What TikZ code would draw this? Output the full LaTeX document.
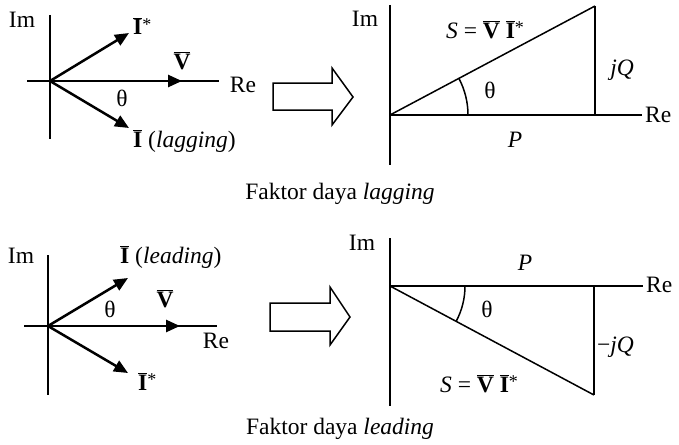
\documentclass[tikz,border=0pt]{standalone}
\usepackage{fontspec}
\setmainfont{Liberation Serif}
\usetikzlibrary{arrows.meta}

\newcommand{\phV}{$\overline{\mbox{\textbf{V}}}$}
\newcommand{\phI}{$\overline{\mbox{\textbf{I}}}$}
\newcommand{\cstar}{\raisebox{5pt}{\fontsize{18}{18}\selectfont *}}

\begin{document}
\begin{tikzpicture}[
    x=1pt, y=-1pt,
    font=\fontsize{23.5}{27}\selectfont,
    axis/.style={line width=2pt},
    phasor/.style={
        line width=2.5pt,
        -{Triangle[length=14pt,width=12pt]}
    },
    side/.style={line width=2pt},
    hyp/.style={line width=1.5pt},
    lbl/.style={inner sep=0pt, anchor=base},
    lblw/.style={inner sep=0pt, anchor=base west},
    bigarrow/.style={draw, line width=1.5pt, line join=miter}
]

\useasboundingbox (0,0) rectangle (679,444);

% --------------------------------------------------
% Lagging: phasors
% --------------------------------------------------

\coordinate (oA) at (50,81);
\coordinate (imAt) at (50,15);
\coordinate (imAb) at (50,139);
\coordinate (reAl) at (27,81);
\coordinate (reAr) at (219,81);
\coordinate (vA) at (182,81);
\coordinate (icA) at (129,33);
\coordinate (iA) at (129,128);

\draw[axis] (imAt) -- (imAb);
\draw[axis] (reAl) -- (reAr);
\draw[phasor] (oA) -- (vA);
\draw[phasor] (oA) -- (icA);
\draw[phasor] (oA) -- (iA);

\node[lbl] (imA) at (22,28) {Im};
\node[lbl] (reA) at (243,92) {Re};
\node[lbl] (vlA) at (182,69) {\phV};
\node[lbl] (thA) at (122,106) {θ};
\node[lblw] (iclA) at (133,35) {\phI\cstar};
\node[lblw] (ilA) at (133,147) {\phI\ (\textit{lagging})};

% --------------------------------------------------
% Lagging: big arrow
% --------------------------------------------------

\draw[bigarrow] (273,83) -- (332,83) -- (332,68) -- (353,97)
    -- (332,125) -- (332,110) -- (273,110) -- cycle;

% --------------------------------------------------
% Lagging: power triangle
% --------------------------------------------------

\coordinate (oB) at (390,115);
\coordinate (imBt) at (390,5);
\coordinate (imBb) at (390,165);
\coordinate (reBr) at (642,115);
\coordinate (qB) at (595,115);
\coordinate (sB) at (595,6);

\draw[axis] (imBt) -- (imBb);
\draw[axis] (oB) -- (reBr);
\draw[side] (qB) -- (sB);
\draw[hyp] (oB) -- (sB);
\draw[hyp] (468,115) arc[start angle=0, end angle=28, radius=78pt];

\node[lbl] (imB) at (365,27) {Im};
\node[lblw] (sBl) at (446,38) {\textit{S} = \phV\ \phI\cstar};
\node[lbl] (qBl) at (622,75) {\textit{jQ}};
\node[lbl] (thB) at (490,98) {θ};
\node[lblw] (reB) at (645,122) {Re};
\node[lbl] (pB) at (515,147) {\textit{P}};

\node[lbl] (capA) at (340,199) {Faktor daya \textit{lagging}};

% --------------------------------------------------
% Leading: phasors
% --------------------------------------------------

\coordinate (oC) at (48,326);
\coordinate (imCt) at (48,255);
\coordinate (imCb) at (48,395);
\coordinate (reCl) at (24,326);
\coordinate (reCr) at (217,326);
\coordinate (vC) at (180,326);
\coordinate (iC) at (128,278);
\coordinate (icC) at (128,373);

\draw[axis] (imCt) -- (imCb);
\draw[axis] (reCl) -- (reCr);
\draw[phasor] (oC) -- (vC);
\draw[phasor] (oC) -- (iC);
\draw[phasor] (oC) -- (icC);

\node[lbl] (imC) at (21,263) {Im};
\node[lblw] (ilC) at (120,263) {\phI\ (\textit{leading})};
\node[lbl] (thC) at (110,317) {θ};
\node[lbl] (vlC) at (165,307) {\phV};
\node[lbl] (reC) at (216,348) {Re};
\node[lblw] (iclC) at (138,390) {\phI\cstar};

% --------------------------------------------------
% Leading: big arrow
% --------------------------------------------------

\draw[bigarrow] (270,303) -- (330,303) -- (330,287) -- (350,317)
    -- (330,345) -- (330,331) -- (270,331) -- cycle;

% --------------------------------------------------
% Leading: power triangle
% --------------------------------------------------

\coordinate (oD) at (390,286);
\coordinate (imDt) at (390,238);
\coordinate (imDb) at (390,406);
\coordinate (reDr) at (643,286);
\coordinate (pD) at (594,286);
\coordinate (sD) at (594,395);

\draw[axis] (imDt) -- (imDb);
\draw[axis] (oD) -- (reDr);
\draw[side] (pD) -- (sD);
\draw[hyp] (oD) -- (sD);
\draw[hyp] (465,286) arc[start angle=0, end angle=-28, radius=75pt];

\node[lbl] (imD) at (362,250) {Im};
\node[lbl] (pDl) at (525,270) {\textit{P}};
\node[lblw] (reD) at (646,292) {Re};
\node[lbl] (thD) at (487,317) {θ};
\node[lblw] (qDl) at (597,352) {−\textit{jQ}};
\node[lblw] (sDl) at (440,392) {\textit{S} = \phV\ \phI\cstar};

\node[lbl] (capB) at (340,434) {Faktor daya \textit{leading}};

\end{tikzpicture}
\end{document}
